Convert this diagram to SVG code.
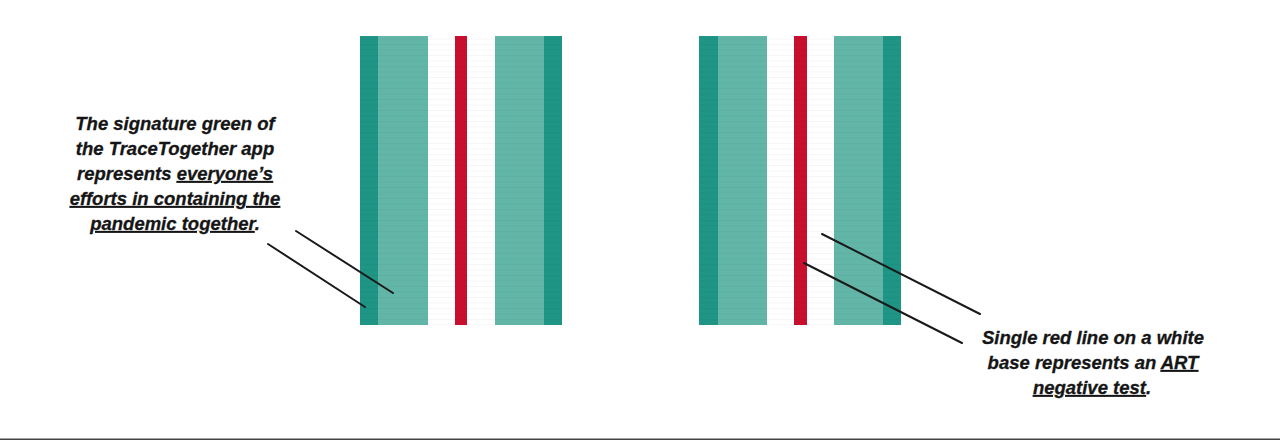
<svg xmlns="http://www.w3.org/2000/svg" width="1280" height="440" viewBox="0 0 1280 440">
  <defs>
    <pattern id="scan" x="0" y="0" width="8" height="5.5" patternUnits="userSpaceOnUse">
      <rect x="0" y="0" width="8" height="1" fill="#000" fill-opacity="0.035"/>
    </pattern>
    <style>
      .dark { fill: #1f9585; }
      .light { fill: #62b6a8; }
      .white { fill: #ffffff; }
      .red { fill: #c8102e; }
      .lbl { font-family: "Liberation Sans", Arial, sans-serif; font-size: 18.5px; font-weight: bold; font-style: italic; fill: #151515; stroke: #151515; stroke-width: 0.3; text-anchor: middle; }
      .u { text-decoration: underline; }
      .conn line { stroke: #1a1a1a; stroke-width: 2; stroke-linecap: round; }
    </style>
  </defs>
  <rect x="0" y="0" width="1280" height="440" fill="#ffffff"/>

  <g id="ribbon-left">
    <rect class="dark" x="360" y="36" width="18" height="289"/>
    <rect class="light" x="378" y="36" width="50" height="289"/>
    <rect class="white" x="428" y="36" width="27" height="289"/>
    <rect class="red" x="455" y="36" width="12" height="289"/>
    <rect class="white" x="467" y="36" width="28" height="289"/>
    <rect class="light" x="495" y="36" width="49" height="289"/>
    <rect class="dark" x="544" y="36" width="18" height="289"/>
    <rect x="360" y="36" width="202" height="289" fill="url(#scan)"/>
  </g>

  <g id="ribbon-right">
    <rect class="dark" x="699" y="36" width="19" height="289"/>
    <rect class="light" x="718" y="36" width="49" height="289"/>
    <rect class="white" x="767" y="36" width="27" height="289"/>
    <rect class="red" x="794" y="36" width="13" height="289"/>
    <rect class="white" x="807" y="36" width="27" height="289"/>
    <rect class="light" x="834" y="36" width="49" height="289"/>
    <rect class="dark" x="883" y="36" width="18" height="289"/>
    <rect x="699" y="36" width="202" height="289" fill="url(#scan)"/>
  </g>

  <g id="connectors" class="conn">
    <line x1="296" y1="231" x2="393" y2="293"/>
    <line x1="268" y1="244" x2="365" y2="307"/>
    <line x1="822" y1="234" x2="980" y2="314"/>
    <line x1="804" y1="263" x2="962" y2="343"/>
  </g>

  <g id="label-left">
    <text class="lbl" x="175" y="130">The signature green of</text>
    <text class="lbl" x="175" y="155">the TraceTogether app</text>
    <text class="lbl" x="175" y="180">represents <tspan class="u">everyone’s</tspan></text>
    <text class="lbl" x="175" y="205"><tspan class="u">efforts in containing the</tspan></text>
    <text class="lbl" x="175" y="230"><tspan class="u">pandemic together</tspan>.</text>
  </g>

  <g id="label-right">
    <text class="lbl" x="1093" y="344">Single red line on a white</text>
    <text class="lbl" x="1093" y="369">base represents an <tspan class="u">ART</tspan></text>
    <text class="lbl" x="1092" y="394"><tspan class="u">negative test</tspan>.</text>
  </g>

  <rect id="bottom-rule" x="0" y="438.5" width="1280" height="1.5" fill="#444444"/>
</svg>
